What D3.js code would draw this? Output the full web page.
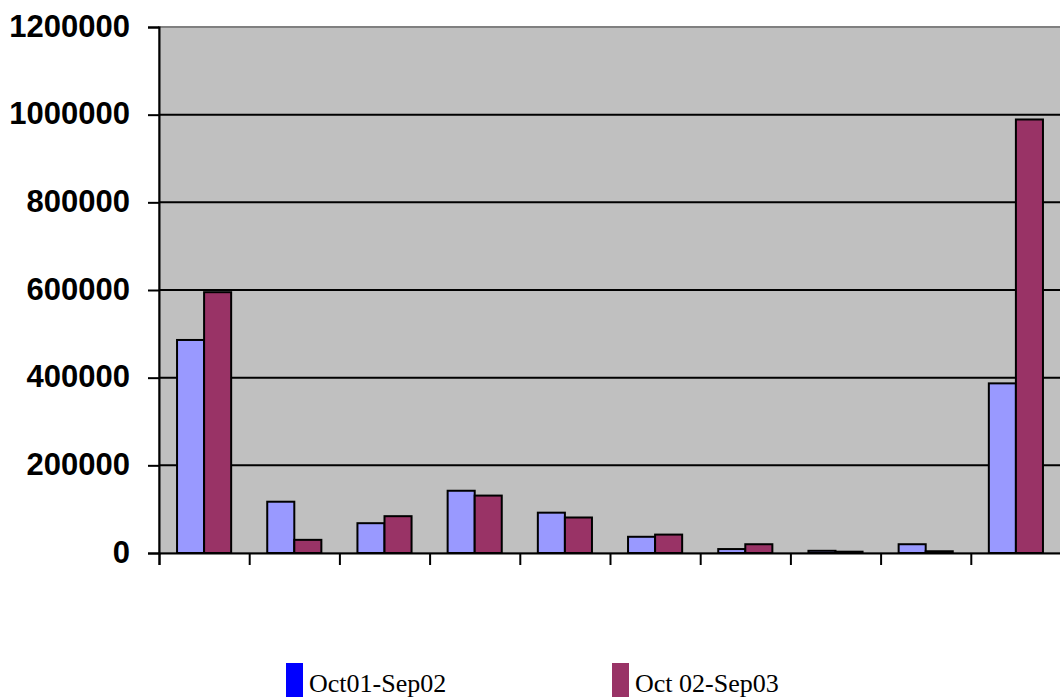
<!DOCTYPE html>
<html>
<head>
<meta charset="utf-8">
<script src="https://cdn.jsdelivr.net/npm/d3@7"></script>
<style>
  html, body { margin: 0; padding: 0; background: #ffffff; }
  svg { display: block; }
</style>
</head>
<body>
<svg id="chart" width="1060" height="697"></svg>
<script>
// Ten groups, two yearly periods per group
const categories = ["1", "2", "3", "4", "5", "6", "7", "8", "9", "10"];
const seriesNames = ["Oct01-Sep02", "Oct 02-Sep03"];
const oct01Sep02 = [486000, 117000, 68000, 142000, 92000, 37000, 9000, 5000, 20000, 387000];
const oct02Sep03 = [595000, 30000, 84000, 131000, 81000, 42000, 20000, 3000, 4000, 989000];
const yTicks = [0, 200000, 400000, 600000, 800000, 1000000, 1200000];

const barColors = ["#9999ff", "#993366"];
const legendColors = ["#0000ff", "#993366"];

const svg = d3.select("#chart");
const plot = { left: 159, right: 1061, top: 27, bottom: 553 };

const y = d3.scaleLinear().domain([0, 1200000]).range([plot.bottom, plot.top]);
const x0 = d3.scaleBand().domain(categories).range([plot.left, plot.right]).padding(0);
const bw = x0.bandwidth();
const x1 = d3.scaleBand().domain(seriesNames).range([bw * 0.2, bw * 0.8]).padding(0);

// plot area
svg.append("rect")
  .attr("x", plot.left).attr("y", plot.top)
  .attr("width", plot.right - plot.left).attr("height", plot.bottom - plot.top)
  .attr("fill", "#c0c0c0")
  .attr("stroke", "#808080").attr("stroke-width", 2);

// horizontal gridlines
svg.append("g")
  .selectAll("line")
  .data(yTicks.filter(t => t > 0 && t < 1200000))
  .join("line")
  .attr("x1", plot.left).attr("x2", plot.right)
  .attr("y1", d => y(d)).attr("y2", d => y(d))
  .attr("stroke", "#000").attr("stroke-width", 2);

// bars
const rows = categories.map((c, i) => ({ cat: c, vals: [oct01Sep02[i], oct02Sep03[i]] }));
const groups = svg.append("g").selectAll("g")
  .data(rows).join("g")
  .attr("transform", d => `translate(${x0(d.cat)},0)`);
groups.selectAll("rect")
  .data(d => d.vals.map((v, k) => ({ name: seriesNames[k], v, k })))
  .join("rect")
  .attr("x", d => x1(d.name))
  .attr("width", x1.bandwidth())
  .attr("y", d => y(d.v))
  .attr("height", d => y(0) - y(d.v))
  .attr("fill", d => barColors[d.k])
  .attr("stroke", "#000").attr("stroke-width", 2);

// y axis
const yAxis = svg.append("g")
  .attr("transform", `translate(${plot.left},0)`)
  .call(d3.axisLeft(y).tickValues(yTicks).tickSize(11).tickPadding(18).tickFormat(d3.format("d")));
yAxis.select(".domain").attr("stroke", "#000").attr("stroke-width", 2);
yAxis.selectAll(".tick line").attr("stroke", "#000").attr("stroke-width", 2);
yAxis.selectAll(".tick text")
  .attr("fill", "#000")
  .attr("dy", "0.3em")
  .style("font-family", "'Liberation Sans', Arial, sans-serif")
  .style("font-weight", "bold")
  .style("font-size", "31px");

// x axis: tick marks at group boundaries, no labels
const xb = d3.scaleLinear().domain([0, categories.length]).range([plot.left, plot.right]);
const xAxis = svg.append("g")
  .attr("transform", `translate(0,${plot.bottom})`)
  .call(d3.axisBottom(xb).tickValues(d3.range(0, categories.length + 1)).tickSize(12).tickFormat(""));
xAxis.select(".domain").attr("stroke", "#000").attr("stroke-width", 2);
xAxis.selectAll(".tick line").attr("stroke", "#000").attr("stroke-width", 2);

// legend
const legendX = [286, 612];
const legend = svg.append("g").selectAll("g")
  .data(seriesNames).join("g")
  .attr("transform", (d, i) => `translate(${legendX[i]},663)`);
legend.append("rect")
  .attr("width", 17).attr("height", 34)
  .attr("fill", (d, i) => legendColors[i]);
legend.append("text")
  .attr("x", 23).attr("y", 29)
  .text(d => d)
  .attr("fill", "#000")
  .style("font-family", "'Liberation Serif', 'Times New Roman', serif")
  .style("font-size", "26px");
</script>
</body>
</html>
